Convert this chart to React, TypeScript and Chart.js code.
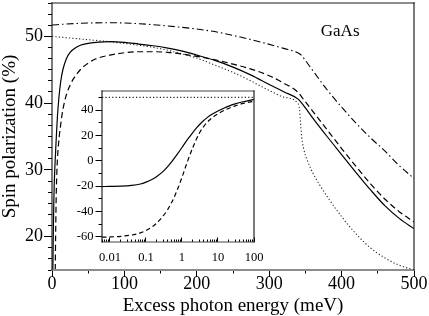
import React, { useEffect, useRef } from 'react';
import { Chart, registerables } from 'chart.js';

Chart.register(...registerables);

const FONT = "'Liberation Serif', 'Times New Roman', serif";

// ---------- main panel data (meV, %) ----------
const solidX = [1.2, 1.5, 2, 2.5, 3, 4, 5, 6, 7.5, 9.5, 12, 15, 20, 25, 30, 40, 50, 65, 80, 100, 120, 140, 160, 180, 200, 225, 250, 275, 300, 320, 340, 345, 350, 360, 380, 400, 420, 440, 460, 480, 500];
const solidY = [15, 18, 22, 25, 27.5, 30.5, 32.8, 35, 38, 40.8, 43.2, 45.0, 46.7, 47.6, 48.1, 48.7, 48.95, 49.15, 49.2, 49.1, 48.85, 48.6, 48.25, 47.8, 47.2, 46.4, 45.4, 44.2, 42.8, 41.7, 40.6, 40.0, 39.3, 37.8, 35.0, 32.3, 29.6, 27.0, 24.6, 22.7, 21.2];

const dashedX = [4.5, 5, 5.5, 6, 7, 8, 10, 12, 15, 20, 25, 30, 40, 50, 60, 80, 100, 120, 140, 160, 180, 200, 225, 250, 275, 300, 320, 340, 345, 350, 360, 380, 400, 420, 440, 460, 480, 500];
const dashedY = [15, 20, 24, 27, 30.5, 32.5, 35, 36.8, 39.0, 41.3, 42.7, 43.7, 45.1, 46.0, 46.6, 47.2, 47.55, 47.7, 47.7, 47.6, 47.35, 47.0, 46.5, 45.85, 45.1, 44.1, 43.0, 41.6, 40.9, 40.2, 38.8, 36.0, 33.2, 30.5, 27.9, 25.6, 23.7, 22.2];

const dottedX = [0, 25, 50, 75, 100, 125, 150, 175, 200, 225, 250, 275, 300, 320, 340, 342, 343, 345, 348, 352, 360, 370, 380, 400, 420, 440, 460, 480, 500];
const dottedY = [50.0, 49.75, 49.5, 49.25, 48.95, 48.6, 48.15, 47.5, 46.75, 45.7, 44.6, 43.3, 41.9, 40.9, 39.9, 39.0, 37.5, 34.8, 33.0, 31.6, 29.6, 27.7, 26.0, 23.0, 20.4, 18.3, 16.8, 15.7, 15.0];

const dashDotX = [0, 20, 50, 80, 110, 140, 170, 200, 230, 260, 290, 320, 340, 345, 350, 360, 380, 400, 420, 440, 460, 480, 500];
const dashDotY = [51.7, 51.85, 52.0, 52.05, 51.95, 51.75, 51.45, 51.1, 50.6, 49.9, 49.1, 48.2, 47.5, 47.1, 46.4, 44.9, 42.0, 39.4, 37.0, 34.8, 32.8, 30.6, 28.7];

const mainXMajor = [0, 100, 200, 300, 400, 500];
const mainXMinorPerMajor = 1;
const mainYMajor = [20, 30, 40, 50];
const mainYMinorPerMajor = 5;
const mainXRange = [0, 500];
const mainYRange = [15, 55];

const materialLabel = 'GaAs';
const materialLabelPos = [398, 50.75];

// ---------- inset data (log x, %) ----------
const insetSolidX = [0.006, 0.01, 0.02, 0.04, 0.07, 0.1, 0.15, 0.2, 0.3, 0.4, 0.54, 0.7, 1.0, 1.3, 1.74, 2.5, 3.5, 5, 7, 10, 15, 20, 30, 50, 70, 100];
const insetSolidY = [-20.3, -20.2, -20.0, -19.4, -18.3, -16.8, -14.5, -12.3, -8.3, -4.6, 0, 4.3, 10.5, 15.3, 20, 25.7, 30.2, 34, 36.8, 39.2, 41.6, 43.1, 44.8, 46.5, 47.4, 48.4];

const insetDashedX = [0.006, 0.01, 0.02, 0.04, 0.07, 0.1, 0.15, 0.2, 0.3, 0.4, 0.5, 0.6, 0.75, 1.0, 1.4, 2.0, 3.0, 4.0, 6.0, 10, 17, 30, 50, 100];
const insetDashedY = [-60.2, -60, -59.5, -58.5, -56.8, -55, -52, -49, -43.5, -38.5, -33.5, -29, -22.5, -13, -1, 10.5, 21.5, 27, 32.5, 37, 40.5, 43.3, 45.2, 46.9];

const insetDottedX = [0.006, 100];
const insetDottedY = [50, 50];

const insetXDecades = [0.01, 0.1, 1, 10, 100];
const insetXRange = [0.006, 100];
const insetYMajor = [-60, -40, -20, 0, 20, 40];
const insetYMinorPerMajor = 1;
const insetYRange = [-64, 55];

const pts = (xs: number[], ys: number[]) => xs.map((x, i) => ({ x, y: ys[i] }));

function linearTicks(majors: number[], minorPer: number, min: number, max: number) {
  const step = majors.length > 1 ? majors[1] - majors[0] : 10;
  const sub = step / (minorPer + 1);
  const out: { value: number }[] = [];
  const start = majors[0] - Math.floor((majors[0] - min) / sub + 1e-9) * sub;
  for (let v = start; v <= max + 1e-9; v += sub) {
    out.push({ value: Math.round(v * 1e6) / 1e6 });
  }
  return out;
}

function logTicks(min: number, max: number) {
  const out: { value: number }[] = [];
  for (let e = Math.floor(Math.log10(min)); e <= Math.ceil(Math.log10(max)); e++) {
    for (let m = 1; m <= 9; m++) {
      const v = m * Math.pow(10, e);
      if (v >= min * 0.999 && v <= max * 1.001) out.push({ value: v });
    }
  }
  return out;
}

const isMajorVal = (list: number[], v: number) => list.some((m) => Math.abs(m - v) < 1e-6 * Math.max(1, Math.abs(m)));
const isDecade = (v: number) => insetXDecades.some((m) => Math.abs(m - v) < 1e-6 * m);

export default function App() {
  const mainRef = useRef<HTMLCanvasElement>(null);
  const insetRef = useRef<HTMLCanvasElement>(null);

  useEffect(() => {
    document.body.style.margin = '0';
    if (!mainRef.current || !insetRef.current) return;

    const framePlugin = (tb: string, lr: string, w1: number, w2: number) => ({
      id: 'frame',
      afterDatasetsDraw(chart: any) {
        const { ctx, chartArea: a } = chart;
        ctx.save();
        ctx.lineCap = 'square';
        ctx.strokeStyle = tb;
        ctx.lineWidth = w1;
        ctx.beginPath();
        ctx.moveTo(a.left, a.top); ctx.lineTo(a.right, a.top);
        ctx.moveTo(a.left, a.bottom); ctx.lineTo(a.right, a.bottom);
        ctx.stroke();
        ctx.strokeStyle = lr;
        ctx.lineWidth = w2;
        ctx.beginPath();
        ctx.moveTo(a.left, a.top); ctx.lineTo(a.left, a.bottom);
        ctx.moveTo(a.right, a.top); ctx.lineTo(a.right, a.bottom);
        ctx.stroke();
        ctx.restore();
      },
    });

    const labelPlugin = {
      id: 'matLabel',
      afterDatasetsDraw(chart: any) {
        const { ctx, scales } = chart;
        ctx.save();
        ctx.font = `17px ${FONT}`;
        ctx.fillStyle = '#000';
        ctx.textAlign = 'center';
        ctx.textBaseline = 'middle';
        ctx.fillText(materialLabel, scales.x.getPixelForValue(materialLabelPos[0]), scales.y.getPixelForValue(materialLabelPos[1]));
        ctx.restore();
      },
    };

    const line = (data: any, dash: number[], width = 1.2, color = '#000') => ({
      data,
      borderColor: color,
      borderWidth: width,
      borderDash: dash,
      pointRadius: 0,
      fill: false,
      cubicInterpolationMode: 'monotone' as const,
    });

    const mainYTicks = linearTicks(mainYMajor, mainYMinorPerMajor, mainYRange[0], mainYRange[1]);
    const mainXTicks = linearTicks(mainXMajor, mainXMinorPerMajor, mainXRange[0], mainXRange[1]);

    const main = new Chart(mainRef.current, {
      type: 'line',
      data: {
        datasets: [
          line(pts(solidX, solidY), []),
          line(pts(dashedX, dashedY), [6, 3.5]),
          line(pts(dottedX, dottedY), [1.2, 2.2], 1.1, '#222'),
          line(pts(dashDotX, dashDotY), [7, 3, 1.5, 3], 1.1),
        ] as any,
      },
      options: {
        responsive: false,
        animation: false,
        devicePixelRatio: 1,
        layout: { padding: { left: 0, right: 15, top: 3, bottom: 0 } },
        plugins: { legend: { display: false }, tooltip: { enabled: false } },
        scales: {
          x: {
            type: 'linear',
            min: mainXRange[0],
            max: mainXRange[1],
            afterBuildTicks: (s: any) => { s.ticks = mainXTicks.map((t) => ({ value: t.value })); },
            afterFit: (s: any) => { s.height = 46; s.paddingLeft = 0; s.paddingRight = 0; },
            ticks: {
              autoSkip: false,
              maxRotation: 0,
              padding: -4,
              color: '#000',
              font: { family: FONT, size: 18 },
              callback: (v: any) => (isMajorVal(mainXMajor, Number(v)) ? String(v) : ''),
            },
            grid: {
              drawOnChartArea: false,
              drawTicks: true,
              tickLength: 7,
              tickColor: '#000',
              tickWidth: 1,
              tickBorderDash: (c: any) => (c.tick && !isMajorVal(mainXMajor, c.tick.value) ? [3.5, 30] : []),
            },
            border: { display: false },
            title: {
              display: true,
              text: 'Excess photon energy (meV)',
              color: '#000',
              font: { family: FONT, size: 19 },
              padding: { top: 0, bottom: -1 },
            },
          },
          y: {
            type: 'linear',
            min: mainYRange[0],
            max: mainYRange[1],
            afterBuildTicks: (s: any) => { s.ticks = mainYTicks.map((t) => ({ value: t.value })); },
            afterFit: (s: any) => { s.width = 52; s.paddingTop = 0; s.paddingBottom = 0; },
            ticks: {
              autoSkip: false,
              padding: 1,
              color: '#000',
              font: { family: FONT, size: 18 },
              callback: (v: any) => (isMajorVal(mainYMajor, Number(v)) ? String(v) : ''),
            },
            grid: {
              drawOnChartArea: false,
              drawTicks: true,
              tickLength: 8,
              tickColor: '#000',
              tickWidth: 1,
              tickBorderDash: (c: any) => (c.tick && !isMajorVal(mainYMajor, c.tick.value) ? [0, 4, 4, 30] : []),
            },
            border: { display: false },
            title: {
              display: true,
              text: 'Spin polarization (%)',
              color: '#000',
              font: { family: FONT, size: 19 },
              padding: { top: -1, bottom: 0 },
            },
          },
        },
      },
      plugins: [framePlugin('#8c8c8c', '#111', 1.8, 1.1), labelPlugin],
    } as any);

    const insetYTicks = linearTicks(insetYMajor, insetYMinorPerMajor, insetYRange[0], insetYRange[1]);
    const insetXTicks = logTicks(insetXRange[0], insetXRange[1]);

    const inset = new Chart(insetRef.current, {
      type: 'line',
      data: {
        datasets: [
          line(pts(insetSolidX, insetSolidY), [], 1.2),
          line(pts(insetDashedX, insetDashedY), [4.5, 3], 1.2),
          line(pts(insetDottedX, insetDottedY), [1.2, 2.2], 1.1, '#222'),
        ] as any,
      },
      options: {
        responsive: false,
        animation: false,
        devicePixelRatio: 1,
        layout: { padding: { left: 0, right: 21, top: 7, bottom: 0 } },
        plugins: { legend: { display: false }, tooltip: { enabled: false } },
        scales: {
          x: {
            type: 'logarithmic',
            min: insetXRange[0],
            max: insetXRange[1],
            afterBuildTicks: (s: any) => { s.ticks = insetXTicks.map((t) => ({ value: t.value })); },
            afterFit: (s: any) => { s.height = 26; s.paddingLeft = 0; s.paddingRight = 0; },
            ticks: {
              autoSkip: false,
              maxRotation: 0,
              padding: 13,
              color: '#000',
              font: { family: FONT, size: 12.5 },
              callback: (v: any) => {
                const n = Number(v);
                const d = insetXDecades.find((m) => Math.abs(m - n) < 1e-6 * m);
                return d !== undefined ? String(d) : '';
              },
            },
            grid: {
              drawOnChartArea: false,
              drawTicks: true,
              tickLength: -4.5,
              tickColor: '#000',
              tickWidth: 1,
              tickBorderDash: (c: any) => (c.tick && !isDecade(c.tick.value) ? [2.5, 30] : []),
            },
            border: { display: false },
          },
          y: {
            type: 'linear',
            min: insetYRange[0],
            max: insetYRange[1],
            afterBuildTicks: (s: any) => { s.ticks = insetYTicks.map((t) => ({ value: t.value })); },
            afterFit: (s: any) => { s.width = 42; s.paddingTop = 0; s.paddingBottom = 0; },
            ticks: {
              autoSkip: false,
              padding: 2,
              color: '#000',
              font: { family: FONT, size: 12.5 },
              callback: (v: any) => (isMajorVal(insetYMajor, Number(v)) ? String(v) : ''),
            },
            grid: {
              drawOnChartArea: false,
              drawTicks: true,
              tickLength: 6.5,
              tickColor: '#000',
              tickWidth: 1,
              tickBorderDash: (c: any) => (c.tick && !isMajorVal(insetYMajor, c.tick.value) ? [0, 3, 3.5, 30] : []),
            },
            border: { display: false },
          },
        },
      },
      plugins: [framePlugin('#444', '#111', 1.2, 1.1)],
    } as any);

    return () => {
      main.destroy();
      inset.destroy();
    };
  }, []);

  return (
    <div style={{ position: 'fixed', left: 0, top: 0, width: 429, height: 316, background: '#fff' }}>
      <canvas ref={mainRef} width={429} height={316} style={{ position: 'absolute', left: 0, top: 0, width: 429, height: 316 }} />
      <canvas ref={insetRef} width={215} height={184} style={{ position: 'absolute', left: 60, top: 84, width: 215, height: 184 }} />
    </div>
  );
}
